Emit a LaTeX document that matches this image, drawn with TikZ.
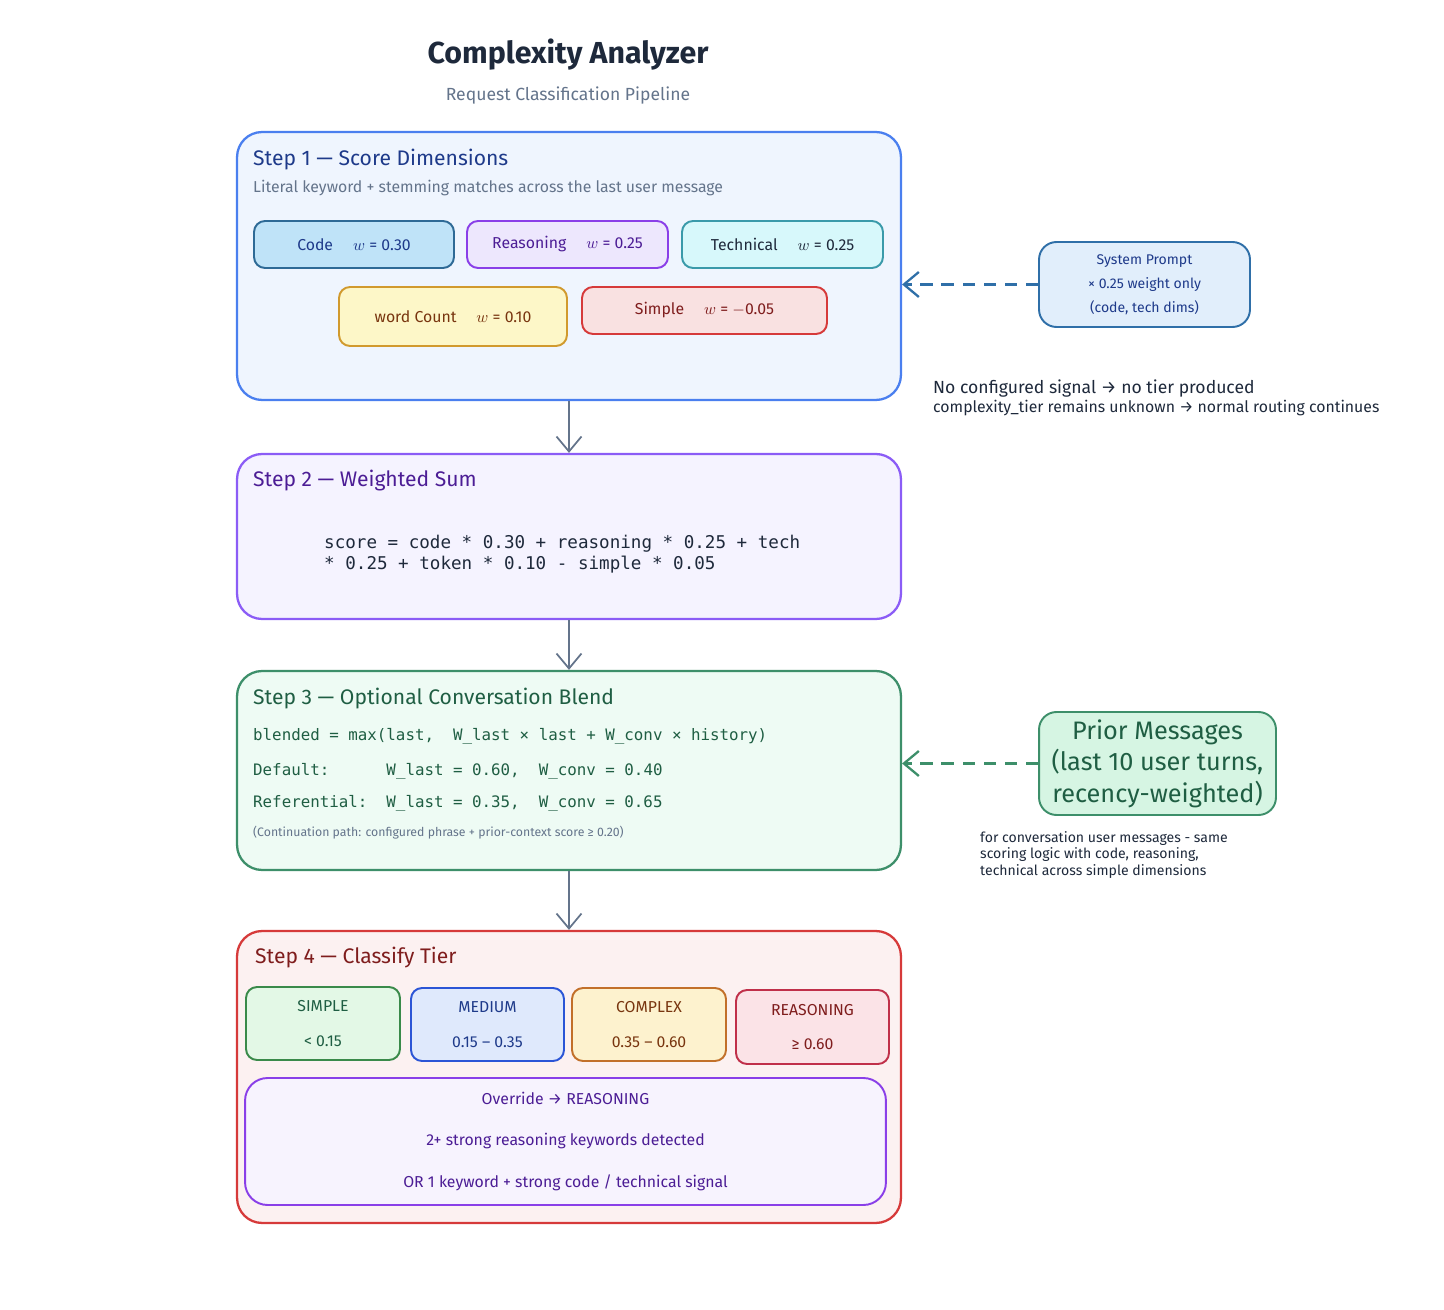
\documentclass[tikz,border=0pt]{standalone}
\usepackage{fontspec}
\setmainfont{Fira Sans}
\setmonofont{DejaVu Sans Mono}
\usetikzlibrary{arrows.meta}
\definecolor{ink}{HTML}{1E293B}
\definecolor{grey}{HTML}{64748B}
\definecolor{sOneF}{HTML}{EFF5FE}\definecolor{sOneD}{HTML}{4A7FEF}\definecolor{sOneT}{HTML}{1E3A8A}
\definecolor{sTwoF}{HTML}{F5F3FF}\definecolor{sTwoD}{HTML}{8B5CF6}\definecolor{sTwoT}{HTML}{4C1D95}
\definecolor{sThrF}{HTML}{EEFBF4}\definecolor{sThrD}{HTML}{3D8F6A}\definecolor{sThrT}{HTML}{1F5E43}
\definecolor{sFouF}{HTML}{FCF1F1}\definecolor{sFouD}{HTML}{D63A3A}\definecolor{sFouT}{HTML}{7F1D1D}
\definecolor{codeF}{HTML}{BFE3F8}\definecolor{codeD}{HTML}{2E6A96}
\definecolor{reasF}{HTML}{EDE7FD}\definecolor{reasD}{HTML}{8A3FE8}
\definecolor{techF}{HTML}{D7F8FB}\definecolor{techD}{HTML}{3A9AAA}
\definecolor{wordF}{HTML}{FDF7C8}\definecolor{wordD}{HTML}{D19A2E}\definecolor{wordT}{HTML}{78350F}
\definecolor{simpF}{HTML}{F9E1E1}
\definecolor{sysF}{HTML}{E1EEFB}\definecolor{sysD}{HTML}{2F6FA8}
\definecolor{priF}{HTML}{D6F5E3}
\definecolor{tsimF}{HTML}{E3F8E6}\definecolor{tsimD}{HTML}{3A8A4A}
\definecolor{tmedF}{HTML}{DFE9FC}\definecolor{tmedD}{HTML}{2B55D6}
\definecolor{tcomF}{HTML}{FDF2CE}\definecolor{tcomD}{HTML}{C2702A}
\definecolor{treaF}{HTML}{FBE3E7}\definecolor{treaD}{HTML}{C0304A}
\definecolor{ovrF}{HTML}{F7F3FE}
\definecolor{flow}{HTML}{64748B}
\tikzset{
  stepbox/.style={draw, line width=1.3pt, rounded corners=0.5cm, minimum width=13.28cm},
  chip/.style={draw, line width=1.1pt, rounded corners=0.22cm, font=\small, align=center},
  head/.style={anchor=west, font=\large},
  flowarrow/.style={-{Straight Barb[length=3mm,width=5mm]}, draw=flow, line width=1pt},
  feed/.style={-{Straight Barb[length=3mm,width=5mm]}, dashed, dash pattern=on 7pt off 5pt, line width=1.3pt},
}
\begin{document}
\begin{tikzpicture}[x=0.02cm,y=-0.02cm]
    \useasboundingbox (0,0) rectangle (1444,1310);

    % title
    \node[font=\bfseries\LARGE, text=ink] (title) at (568,55) {Complexity Analyzer};
    \node[font=\normalsize, text=grey] (subtitle) at (568,96) {Request Classification Pipeline};

    % step boxes
    \node[stepbox, fill=sOneF, draw=sOneD, minimum height=5.36cm] (s1) at (569,266) {};
    \node[stepbox, fill=sTwoF, draw=sTwoD, minimum height=3.3cm] (s2) at (569,536.5) {};
    \node[stepbox, fill=sThrF, draw=sThrD, minimum height=3.98cm] (s3) at (569,770.5) {};
    \node[stepbox, fill=sFouF, draw=sFouD, minimum height=5.84cm] (s4) at (569,1077) {};

    % step 1
    \node[head, text=sOneT] (h1) at (247,160) {Step 1 — Score Dimensions};
    \node[anchor=west, text=grey, font=\small] (h1sub) at (247,188) {Literal keyword + stemming matches across the last user message};
    \node[chip, fill=codeF, draw=codeD, text=sOneT, minimum width=4cm, minimum height=0.94cm] (dcode) at (354,244.5) {Code \quad $w$ = 0.30};
    \node[chip, fill=reasF, draw=reasD, text=sTwoT, minimum width=4.02cm, minimum height=0.94cm] (dreas) at (567.5,244.5) {Reasoning \quad $w$ = 0.25};
    \node[chip, fill=techF, draw=techD, text=ink, minimum width=4.02cm, minimum height=0.94cm] (dtech) at (782.5,244.5) {Technical \quad $w$ = 0.25};
    \node[chip, fill=wordF, draw=wordD, text=wordT, minimum width=4.56cm, minimum height=1.18cm] (dword) at (453,316.5) {word Count \quad $w$ = 0.10};
    \node[chip, fill=simpF, draw=sFouD, text=sFouT, minimum width=4.9cm, minimum height=0.94cm] (dsimp) at (704.5,310.5) {Simple \quad $w$ = $-$0.05};

    % step 2
    \node[head, text=sTwoT] (h2) at (247,481) {Step 2 — Weighted Sum};
    \node[anchor=west, font=\ttfamily, text=ink, align=left] (sum) at (318,554.5) {score = code * 0.30 + reasoning * 0.25 + tech\\* 0.25 + token * 0.10 - simple * 0.05};

    % step 3
    \node[head, text=sThrT] (h3) at (247,699) {Step 3 — Optional Conversation Blend};
    \node[anchor=west, font=\ttfamily\small, text=sThrT] (blend) at (247,736) {blended = max(last,\ \ W\_last × last + W\_conv × history)};
    \node[anchor=west, font=\ttfamily\small, text=sThrT] (dflt) at (247,771) {Default:\ \ \ \ \ \ W\_last = 0.60,\ \ W\_conv = 0.40};
    \node[anchor=west, font=\ttfamily\small, text=sThrT] (refr) at (247,803) {Referential:\ \ W\_last = 0.35,\ \ W\_conv = 0.65};
    \node[anchor=west, font=\scriptsize, text=grey] (cont) at (247,833) {(Continuation path: configured phrase + prior-context score ≥ 0.20)};

    % step 4
    \node[head, text=sFouT] (h4) at (249,958) {Step 4 — Classify Tier};
    \node[chip, fill=tsimF, draw=tsimD, text=sThrT, minimum width=3.08cm, minimum height=1.46cm] (tsim) at (323,1023.5) {SIMPLE\\[3mm]< 0.15};
    \node[chip, fill=tmedF, draw=tmedD, text=sOneT, minimum width=3.06cm, minimum height=1.46cm] (tmed) at (487.5,1024.5) {MEDIUM\\[3mm]0.15 – 0.35};
    \node[chip, fill=tcomF, draw=tcomD, text=wordT, minimum width=3.08cm, minimum height=1.46cm] (tcom) at (649,1024.5) {COMPLEX\\[3mm]0.35 – 0.60};
    \node[chip, fill=treaF, draw=treaD, text=sFouT, minimum width=3.06cm, minimum height=1.48cm] (trea) at (812.5,1027) {REASONING\\[3mm]≥ 0.60};
    \node[chip, rounded corners=0.45cm, fill=ovrF, draw=reasD, text=sTwoT, minimum width=12.82cm, minimum height=2.54cm] (ovr) at (565.5,1141.5) {Override → REASONING\\[4.5mm]2+ strong reasoning keywords detected\\[4.5mm]OR 1 keyword + strong code / technical signal};

    % side inputs
    \node[chip, rounded corners=0.35cm, fill=sysF, draw=sysD, text=sOneT, font=\footnotesize, minimum width=4.22cm, minimum height=1.7cm] (sys) at (1144.5,284.5) {System Prompt\\[1.5mm]× 0.25 weight only\\[1.5mm](code, tech dims)};
    \node[chip, rounded corners=0.35cm, fill=priF, draw=sThrD, text=sThrT, font=\Large, minimum width=4.74cm, minimum height=2.06cm, inner sep=1pt] (prior) at (1157.5,763.5) {Prior Messages\\(last 10 user turns,\\recency-weighted)};
    \node[anchor=west, text=ink, align=left, font=\small] (nosig) at (927,398) {{\normalsize No configured signal → no tier produced}\\complexity\_tier remains unknown → normal routing continues};
    \node[anchor=west, text=ink, align=left, font=\footnotesize] (convnote) at (974,855) {for conversation user messages - same\\scoring logic with code, reasoning,\\technical across simple dimensions};

    % flow
    \draw[flowarrow] (s1) -- (s2);
    \draw[flowarrow] (s2) -- (s3);
    \draw[flowarrow] (s3) -- (s4);
    \draw[feed, draw=sysD] (sys.west) -- (s1.east |- sys.west);
    \draw[feed, draw=sThrD] (prior.west) -- (s3.east |- prior.west);
\end{tikzpicture}
\end{document}
